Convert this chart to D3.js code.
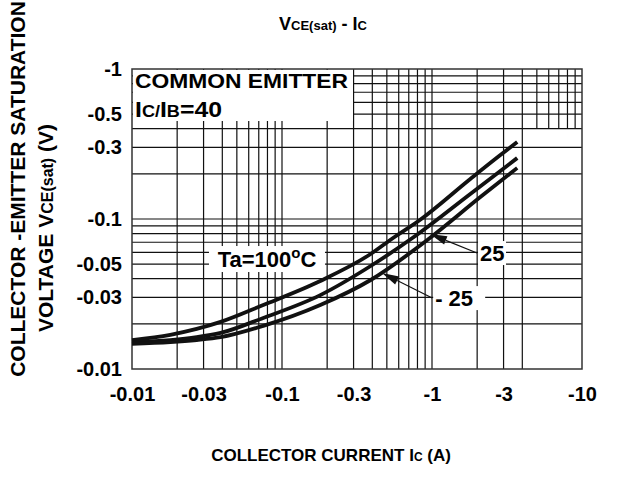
<!DOCTYPE html>
<html><head><meta charset="utf-8">
<script src="https://cdn.jsdelivr.net/npm/d3@7"></script>
<style>
body{margin:0;background:#fff}
text{font-family:"Liberation Sans",Arial,sans-serif;font-weight:bold;fill:#000}
</style>
</head><body>
<svg id="c" width="618" height="495"></svg>
<script>
// ---- data ----
const ic100  = [0.01,0.018,0.027,0.039,0.075,0.18,0.39,0.55,0.83,1.8,2.8,3.7];
const vce100 = [0.0156,0.0169,0.0185,0.0206,0.0267,0.0386,0.0584,0.0747,0.0985,0.185,0.263,0.326];
const ic25   = [0.01,0.018,0.027,0.039,0.075,0.18,0.39,0.74,1.8,2.8,3.7];
const vce25  = [0.0151,0.0156,0.0163,0.0174,0.0219,0.0311,0.0486,0.0747,0.147,0.206,0.255];
const icM25  = [0.01,0.018,0.027,0.039,0.075,0.18,0.39,0.93,2.1,3.7];
const vceM25 = [0.0147,0.0151,0.0156,0.0163,0.0194,0.0267,0.0392,0.0724,0.140,0.219];

const xTickVals   = [0.01,0.03,0.1,0.3,1,3,10];
const xTickLabels = ["-0.01","-0.03","-0.1","-0.3","-1","-3","-10"];
const yTickVals   = [1,0.5,0.3,0.1,0.05,0.03,0.01];
const yTickLabels = ["-1","-0.5","-0.3","-0.1","-0.05","-0.03","-0.01"];

const xGridVals    = [0.02,0.03,0.04,0.05,0.06,0.07,0.08,0.09,0.1,0.2,0.3,0.4,0.5,0.6,0.7,0.8,0.9,1,2,3,4];
const xGridTopVals = [5,6,7,8,9];
const yGridVals    = [0.02,0.03,0.04,0.05,0.06,0.07,0.08,0.09,0.1,0.2,0.3,0.4,0.5,0.6,0.7,0.8,0.9];

const annoText   = ["25","- 25"];
const annoTipIc  = [0.97,0.464];
const annoTipV   = [0.0794,0.0437];
const annoLblIc  = [2.09,1.05];
const annoLblV   = [0.0593,0.0297];

// ---- scales ----
const svg = d3.select("#c");
const x = d3.scaleLog().domain([0.01,10]).range([132,582]);
const y = d3.scaleLog().domain([0.01,1]).range([369,69]);
const L=132,R=582,T=69,B=369;

// grid
const grid = svg.append("g").attr("stroke","#111").attr("stroke-width",1.2);
grid.selectAll(".vx").data(xGridVals).join("line")
  .attr("x1",d=>x(d)).attr("x2",d=>x(d)).attr("y1",T).attr("y2",B);
grid.selectAll(".vt").data(xGridTopVals).join("line")
  .attr("x1",d=>x(d)).attr("x2",d=>x(d)).attr("y1",T).attr("y2",y(0.4));
grid.selectAll(".hy").data(yGridVals).join("line")
  .attr("x1",L).attr("x2",R).attr("y1",d=>y(d)).attr("y2",d=>y(d));

// legend box (covers grid)
svg.append("rect").attr("x",L+1).attr("y",T+1).attr("width",220).attr("height",51).attr("fill","#fff");
// frame
svg.append("rect").attr("x",L).attr("y",T).attr("width",R-L).attr("height",B-T)
  .attr("fill","none").attr("stroke","#333").attr("stroke-width",1.5);

// legend text
svg.append("text").attr("x",135).attr("y",88).attr("font-size",21)
  .attr("textLength",213).attr("lengthAdjust","spacingAndGlyphs").text("COMMON EMITTER");
const lt = svg.append("text").attr("x",135).attr("y",117).attr("font-size",22)
  .attr("textLength",87).attr("lengthAdjust","spacingAndGlyphs");
lt.append("tspan").text("I");
lt.append("tspan").attr("font-size",16).text("C/");
lt.append("tspan").text("I");
lt.append("tspan").attr("font-size",16).text("B");
lt.append("tspan").text("=40");

// curves
const line = d3.line().x(d=>x(d[0])).y(d=>y(d[1])).curve(d3.curveMonotoneX);
const series = [d3.zip(ic100,vce100), d3.zip(ic25,vce25), d3.zip(icM25,vceM25)];
svg.append("g").selectAll("path").data(series).join("path")
  .attr("d",line).attr("fill","none").attr("stroke","#111").attr("stroke-width",3.8)
  .attr("stroke-linecap","butt");

// Ta=100°C label
const taX = x(0.0794), taY = y(0.0541);
svg.append("rect").attr("x",taX-58).attr("y",taY-13).attr("width",116).attr("height",26).attr("fill","#fff");
const ta = svg.append("text").attr("x",taX).attr("y",taY+8).attr("text-anchor","middle").attr("font-size",22);
ta.append("tspan").text("Ta=100");
ta.append("tspan").attr("font-size",15).attr("dy",-9).text("o");
ta.append("tspan").attr("dy",9).text("C");

// annotations with arrows
annoText.forEach((t,i)=>{
  const tx=x(annoTipIc[i]), ty=y(annoTipV[i]);
  const lx=x(annoLblIc[i]), ly=y(annoLblV[i]);
  const w = t.length*12+4;
  svg.append("rect").attr("x",lx-2).attr("y",ly-12).attr("width",w).attr("height",24).attr("fill","#fff");
  svg.append("text").attr("x",lx).attr("y",ly+8).attr("font-size",22).text(t);
  const ex=lx-3, ey=ly;
  const dx=tx-ex, dy=ty-ey, len=Math.hypot(dx,dy), ux=dx/len, uy=dy/len;
  const bx=tx-ux*17, by=ty-uy*17;
  svg.append("line").attr("x1",ex).attr("y1",ey).attr("x2",bx).attr("y2",by).attr("stroke","#111").attr("stroke-width",1.2);
  svg.append("path").attr("d",`M${tx},${ty}L${bx-uy*4.5},${by+ux*4.5}L${bx+uy*4.5},${by-ux*4.5}Z`).attr("fill","#111");
});

// axes
const xa = svg.append("g").attr("transform",`translate(0,${B})`)
  .call(d3.axisBottom(x).tickValues(xTickVals).tickFormat((d,i)=>xTickLabels[i]).tickSize(0).tickPadding(18));
xa.select(".domain").remove();
xa.selectAll("text").attr("font-size",20).attr("fill","#000");
xa.attr("font-size",null).attr("font-family",null);

const ya = svg.append("g").attr("transform",`translate(${L},0)`)
  .call(d3.axisLeft(y).tickValues(yTickVals).tickFormat((d,i)=>yTickLabels[i]).tickSize(0).tickPadding(10));
ya.select(".domain").remove();
ya.selectAll("text").attr("font-size",20).attr("fill","#000");
ya.attr("font-size",null).attr("font-family",null);

// title
const tt = svg.append("text").attr("x",323).attr("y",30).attr("text-anchor","middle").attr("font-size",18);
tt.append("tspan").text("V");
tt.append("tspan").attr("font-size",13).text("CE(sat)");
tt.append("tspan").text(" - I");
tt.append("tspan").attr("font-size",13).text("C");

// x title
const xt = svg.append("text").attr("x",331).attr("y",461).attr("text-anchor","middle").attr("font-size",17);
xt.append("tspan").text("COLLECTOR CURRENT I");
xt.append("tspan").attr("font-size",12).text("C");
xt.append("tspan").text(" (A)");

// y titles
svg.append("text").attr("transform","translate(25,189) rotate(-90)").attr("text-anchor","middle")
  .attr("font-size",21).text("COLLECTOR -EMITTER SATURATION");
const y2 = svg.append("text").attr("transform","translate(53,228) rotate(-90)").attr("text-anchor","middle").attr("font-size",21);
y2.append("tspan").text("VOLTAGE V");
y2.append("tspan").attr("font-size",16).text("CE(sat)");
y2.append("tspan").text(" (V)");
</script>
</body></html>
